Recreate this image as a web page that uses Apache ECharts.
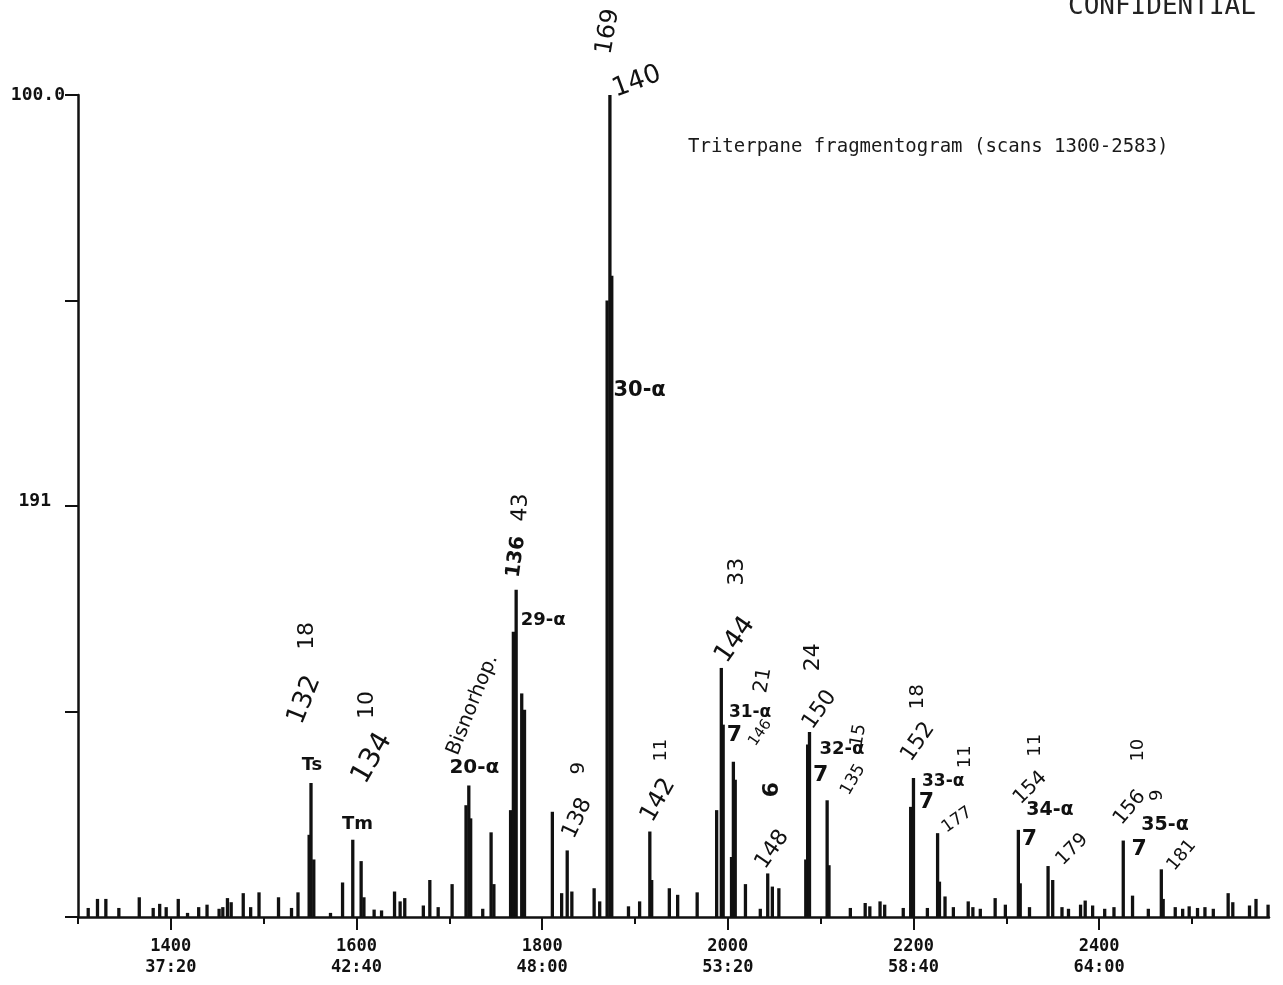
<!DOCTYPE html>
<html>
<head>
<meta charset="utf-8">
<script src="https://cdn.jsdelivr.net/npm/echarts@6/dist/echarts.min.js"></script>
<style>
html,body{margin:0;padding:0;background:#fff;}
#c{width:1283px;height:985px;}
</style>
</head>
<body>
<div id="c"></div>
<script>
// ---- data (scan number, relative intensity %) ----
const peakScans = [
  1311,1321,1330,1344,1366,1381,1388,1395,1408,1418,1430,1439,1452,1456,1461,1465,1478,1486,1495,1516,1530,1537,
  1549,1551,1554,1572,1585,1596,1605,1608,1619,1627,1641,1647,1652,1672,1679,1688,1703,
  1718,1721,1723,1736,1745,1748,1766,1769,1772,1778,1781,1811,1821,1827,1832,1856,1862,
  1870,1873,1875,1893,1905,1916,1918,1937,1946,1967,1988,1993,1995,2004,2006,2008,2019,2035,2043,2048,2055,
  2084,2086,2088,2107,2109,2132,2148,2153,2164,2169,2189,2197,2200,2215,2226,2228,2234,2243,2259,2264,2272,2288,2299,
  2313,2315,2325,2345,2350,2360,2367,2380,2385,2393,2406,2416,2426,2436,2453,2467,2469,
  2482,2490,2497,2506,2514,2523,2539,2544,2562,2569,2582
];
const peakValues = [
  1.1,2.2,2.2,1.1,2.4,1.1,1.6,1.2,2.2,0.5,1.2,1.5,1.0,1.2,2.3,1.8,2.9,1.2,3.0,2.4,1.1,3.0,
  10,16.3,7,0.5,4.2,9.4,6.8,2.4,0.9,0.8,3.1,1.9,2.3,1.4,4.5,1.2,4.0,
  13.6,16.0,12,1.0,10.3,4.0,13,34.7,39.8,27.2,25.2,12.8,2.9,8.1,3.1,3.5,1.9,
  75,100,78,1.3,1.9,10.4,4.5,3.5,2.7,3.0,13,30.3,23.4,7.3,18.9,16.7,4.0,1.0,5.3,3.7,3.5,
  7,21,22.5,14.2,6.3,1.1,1.7,1.3,1.9,1.5,1.1,13.4,16.9,1.1,10.2,4.3,2.5,1.2,1.9,1.2,1.0,2.3,1.5,
  10.6,4.1,1.2,6.2,4.5,1.2,1.0,1.5,2.0,1.4,1.0,1.2,9.3,2.6,1.0,5.8,2.2,
  1.2,1.0,1.3,1.1,1.2,1.0,2.9,1.8,1.4,2.2,1.5
];
const majorTickScans = [1400,1600,1800,2000,2200,2400];
const majorTickTimes = ['37:20','42:40','48:00','53:20','58:40','64:00'];
const minorTickScans = [1300,1500,1700,1900,2100,2300,2500];
const yTickValues = [0,25,50,75,100];
const yTickLabels = ['','','191','','100.0'];

// handwritten annotations: text, anchor scan, anchor level (%), rotation (deg ccw)
const annotations = [
  {t:'169', s:1871, v:107.7, r:80, f:24, b:false},
  {t:'140', s:1902, v:101.6, r:20, f:26, b:false},
  {t:'30-\u03b1', s:1905, v:64.1, r:0, f:21, b:true},
  {t:'Ts', s:1552, v:18.5, r:0, f:18, b:true},
  {t:'132', s:1544, v:26.4, r:68, f:26, b:false},
  {t:'18', s:1547, v:34.2, r:90, f:22, b:false},
  {t:'134', s:1617, v:19.3, r:60, f:28, b:false},
  {t:'10', s:1612, v:25.8, r:90, f:22, b:false},
  {t:'Tm', s:1601, v:11.3, r:0, f:18, b:true},
  {t:'Bisnorhop.', s:1725, v:25.8, r:68, f:20, b:false},
  {t:'20-\u03b1', s:1727, v:18.1, r:0, f:20, b:true},
  {t:'136', s:1772, v:43.8, r:82, f:20, b:true},
  {t:'43', s:1777, v:49.8, r:88, f:22, b:false},
  {t:'29-\u03b1', s:1801, v:36.1, r:0, f:18, b:true},
  {t:'9', s:1839, v:18.1, r:90, f:20, b:false},
  {t:'138', s:1838, v:12.0, r:65, f:22, b:false},
  {t:'142', s:1925, v:14.2, r:60, f:24, b:false},
  {t:'11', s:1928, v:20.3, r:90, f:18, b:false},
  {t:'144', s:2008, v:33.7, r:55, f:26, b:false},
  {t:'33', s:2010, v:42.0, r:90, f:22, b:false},
  {t:'31-\u03b1', s:2024, v:24.9, r:0, f:17, b:true},
  {t:'7', s:2007, v:22.1, r:0, f:22, b:true},
  {t:'146', s:2035, v:22.4, r:55, f:15, b:false},
  {t:'21', s:2038, v:28.8, r:80, f:20, b:false},
  {t:'6', s:2048, v:15.5, r:90, f:22, b:true},
  {t:'148', s:2048, v:8.2, r:55, f:22, b:false},
  {t:'150', s:2099, v:25.2, r:55, f:22, b:false},
  {t:'24', s:2092, v:31.6, r:90, f:22, b:false},
  {t:'32-\u03b1', s:2123, v:20.4, r:0, f:18, b:true},
  {t:'7', s:2100, v:17.3, r:0, f:22, b:true},
  {t:'135', s:2135, v:16.7, r:60, f:17, b:false},
  {t:'15', s:2141, v:22.1, r:80, f:18, b:false},
  {t:'152', s:2205, v:21.3, r:55, f:22, b:false},
  {t:'18', s:2205, v:26.8, r:90, f:20, b:false},
  {t:'33-\u03b1', s:2232, v:16.5, r:0, f:17, b:true},
  {t:'7', s:2214, v:13.9, r:0, f:22, b:true},
  {t:'177', s:2247, v:11.8, r:35, f:17, b:false},
  {t:'11', s:2256, v:19.5, r:90, f:18, b:false},
  {t:'154', s:2326, v:15.7, r:45, f:20, b:false},
  {t:'11', s:2331, v:20.9, r:90, f:18, b:false},
  {t:'34-\u03b1', s:2347, v:13.0, r:0, f:19, b:true},
  {t:'7', s:2325, v:9.4, r:0, f:22, b:true},
  {t:'179', s:2371, v:8.2, r:45, f:19, b:false},
  {t:'156', s:2433, v:13.3, r:50, f:20, b:false},
  {t:'10', s:2442, v:20.3, r:90, f:18, b:false},
  {t:'35-\u03b1', s:2471, v:11.2, r:0, f:19, b:true},
  {t:'7', s:2443, v:8.2, r:0, f:22, b:true},
  {t:'181', s:2489, v:7.5, r:50, f:18, b:false},
  {t:'9', s:2463, v:14.8, r:90, f:18, b:false}
];

const chartTitle = 'Triterpane fragmentogram (scans 1300-2583)';
const stampText = 'CONFIDENTIAL';

// ---- chart ----
const mono = "'DejaVu Sans Mono', 'Liberation Mono', monospace";
const ink = '#111';
const chart = echarts.init(document.getElementById('c'), null, {renderer: 'canvas'});

chart.setOption({
  animation: false,
  backgroundColor: '#fff',
  grid: {left: 78, right: 14, top: 95, bottom: 68, containLabel: false},
  xAxis: [{
    type: 'value', min: 1300, max: 2583, interval: 100,
    axisLine: {show: true, onZero: false, lineStyle: {color: ink, width: 2.5}},
    axisTick: {show: true, customValues: majorTickScans, length: 13, lineStyle: {color: ink, width: 2}},
    axisLabel: {
      show: true, customValues: majorTickScans, margin: 19,
      formatter: v => v + '\n' + majorTickTimes[majorTickScans.indexOf(v)],
      fontFamily: mono, fontWeight: 'bold', fontSize: 17, lineHeight: 21, color: ink
    },
    splitLine: {show: false}
  }, {
    type: 'value', min: 1300, max: 2583, interval: 100, position: 'bottom',
    axisLine: {show: false},
    axisTick: {show: true, customValues: minorTickScans, length: 7, lineStyle: {color: ink, width: 2}},
    axisLabel: {show: false},
    splitLine: {show: false}
  }],
  yAxis: {
    type: 'value', min: 0, max: 100, interval: 25,
    axisLine: {show: true, lineStyle: {color: ink, width: 2.5}},
    axisTick: {show: true, length: 13, lineStyle: {color: ink, width: 2}},
    axisLabel: {
      show: true, margin: 13,
      formatter: v => {
        const lab = yTickLabels[yTickValues.indexOf(v)] || '';
        if (lab === '191') return '{b|' + lab + '}';
        return lab ? '{a|' + lab + '}' : '';
      },
      rich: {
        a: {fontFamily: mono, fontWeight: 'bold', fontSize: 18, color: ink},
        b: {fontFamily: mono, fontWeight: 'bold', fontSize: 18, color: ink, padding: [0, 14, 10, 0]}
      }
    },
    splitLine: {show: false}
  },
  series: [{
    type: 'bar', xAxisIndex: 0, yAxisIndex: 0, silent: true,
    data: peakScans.map((s, i) => [s, peakValues[i]]),
    barWidth: 3.3,
    itemStyle: {color: ink}
  }]
});

const graphics = [
  {type: 'text', x: 688, y: 147, style: {text: chartTitle, font: "19px " + mono, fill: '#1a1a1a', align: 'left', verticalAlign: 'middle', textAlign: 'left', textVerticalAlign: 'middle'}},
  {type: 'text', x: 1068, y: 7, style: {text: stampText, font: "26px " + mono, fill: '#222', align: 'left', verticalAlign: 'middle', textAlign: 'left', textVerticalAlign: 'middle'}}
];
annotations.forEach(a => {
  const p = chart.convertToPixel({xAxisIndex: 0, yAxisIndex: 0}, [a.s, a.v]);
  graphics.push({
    type: 'text', x: p[0], y: p[1], rotation: a.r * Math.PI / 180,
    style: {
      text: a.t,
      font: (a.b ? 'bold ' : '') + a.f + "px 'DejaVu Sans', 'Noto Sans', sans-serif",
      fill: ink, align: 'center', verticalAlign: 'middle', textAlign: 'center', textVerticalAlign: 'middle'
    }
  });
});
chart.setOption({graphic: graphics});
</script>
</body>
</html>
